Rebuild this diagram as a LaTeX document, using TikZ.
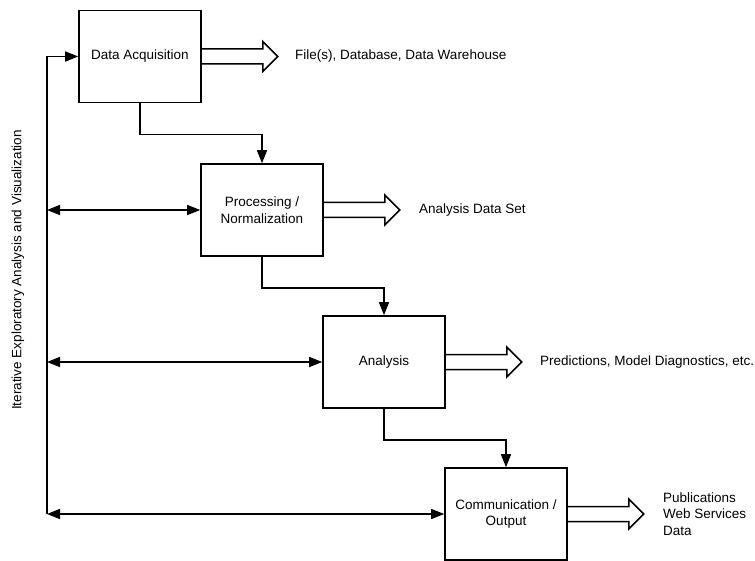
\documentclass[tikz,border=0pt]{standalone}
\usepackage{fontspec}
\setmainfont{Liberation Sans}
\usetikzlibrary{arrows.meta,calc}
\begin{document}
\begin{tikzpicture}[x=1pt,y=-1pt,
  stagebox/.style={draw,line width=1.6pt,minimum width=122pt,minimum height=92pt,inner sep=0pt,align=center,font=\fontsize{13.5}{16.5}\selectfont},
  lbl/.style={anchor=west,align=left,inner sep=0pt,font=\fontsize{13.5}{16.5}\selectfont},
  flow/.style={line width=1.5pt,-{Triangle[length=13pt,width=10pt]}},
  bidir/.style={line width=1.5pt,{Triangle[length=13pt,width=10pt]}-{Triangle[length=13pt,width=10pt]}},
  hollow/.style={line width=1.5pt,line join=miter}]
\useasboundingbox (0,0) rectangle (755,561);
\fill[white] (0,0) rectangle (755,561);

\node[stagebox] (da) at (140,56.5) {Data Acquisition};
\node[stagebox] (pn) at (262,210) {Processing /\\Normalization};
\node[stagebox] (an) at (384,362) {Analysis};
\node[stagebox] (co) at (506,514) {Communication /\\Output};

\node[lbl] (tda) at (295,56.5) {File(s), Database, Data Warehouse};
\node[lbl] (tpn) at (419,210) {Analysis Data Set};
\node[lbl] (tan) at (540,362) {Predictions, Model Diagnostics, etc.};
\node[lbl] (tco) at (663,514) {Publications\\Web Services\\Data};

\node[rotate=90,inner sep=0pt,font=\fontsize{13.5}{16.5}\selectfont] (side) at (18,270) {Iterative Exploratory Analysis and Visualization};

% hollow block arrows
\foreach \b in {da,pn,an,co}{
  \draw[hollow] ($(\b.east)+(0,-7.5)$) -- ++(61,0) -- ++(0,-7.5) -- ++(15,15) -- ++(-15,15) -- ++(0,-7.5) -- ($(\b.east)+(0,7.5)$);
}

% stage flow
\draw[flow] (da.south) -- ++(0,31) -| (pn.north);
\draw[flow] (pn.south) -- ++(0,31) -| (an.north);
\draw[flow] (an.south) -- ++(0,31) -| (co.north);

% iterative loop
\coordinate (ltop) at (47,56.5);
\coordinate (lpn) at (47,210);
\coordinate (lan) at (47,362);
\coordinate (lco) at (47,514);
\draw[line width=1.5pt] (lco) -- (ltop);
\draw[flow] (ltop) -- (da.west);
\draw[bidir] (lpn) -- (pn.west);
\draw[bidir] (lan) -- (an.west);
\draw[bidir] (lco) -- (co.west);
\end{tikzpicture}
\end{document}
